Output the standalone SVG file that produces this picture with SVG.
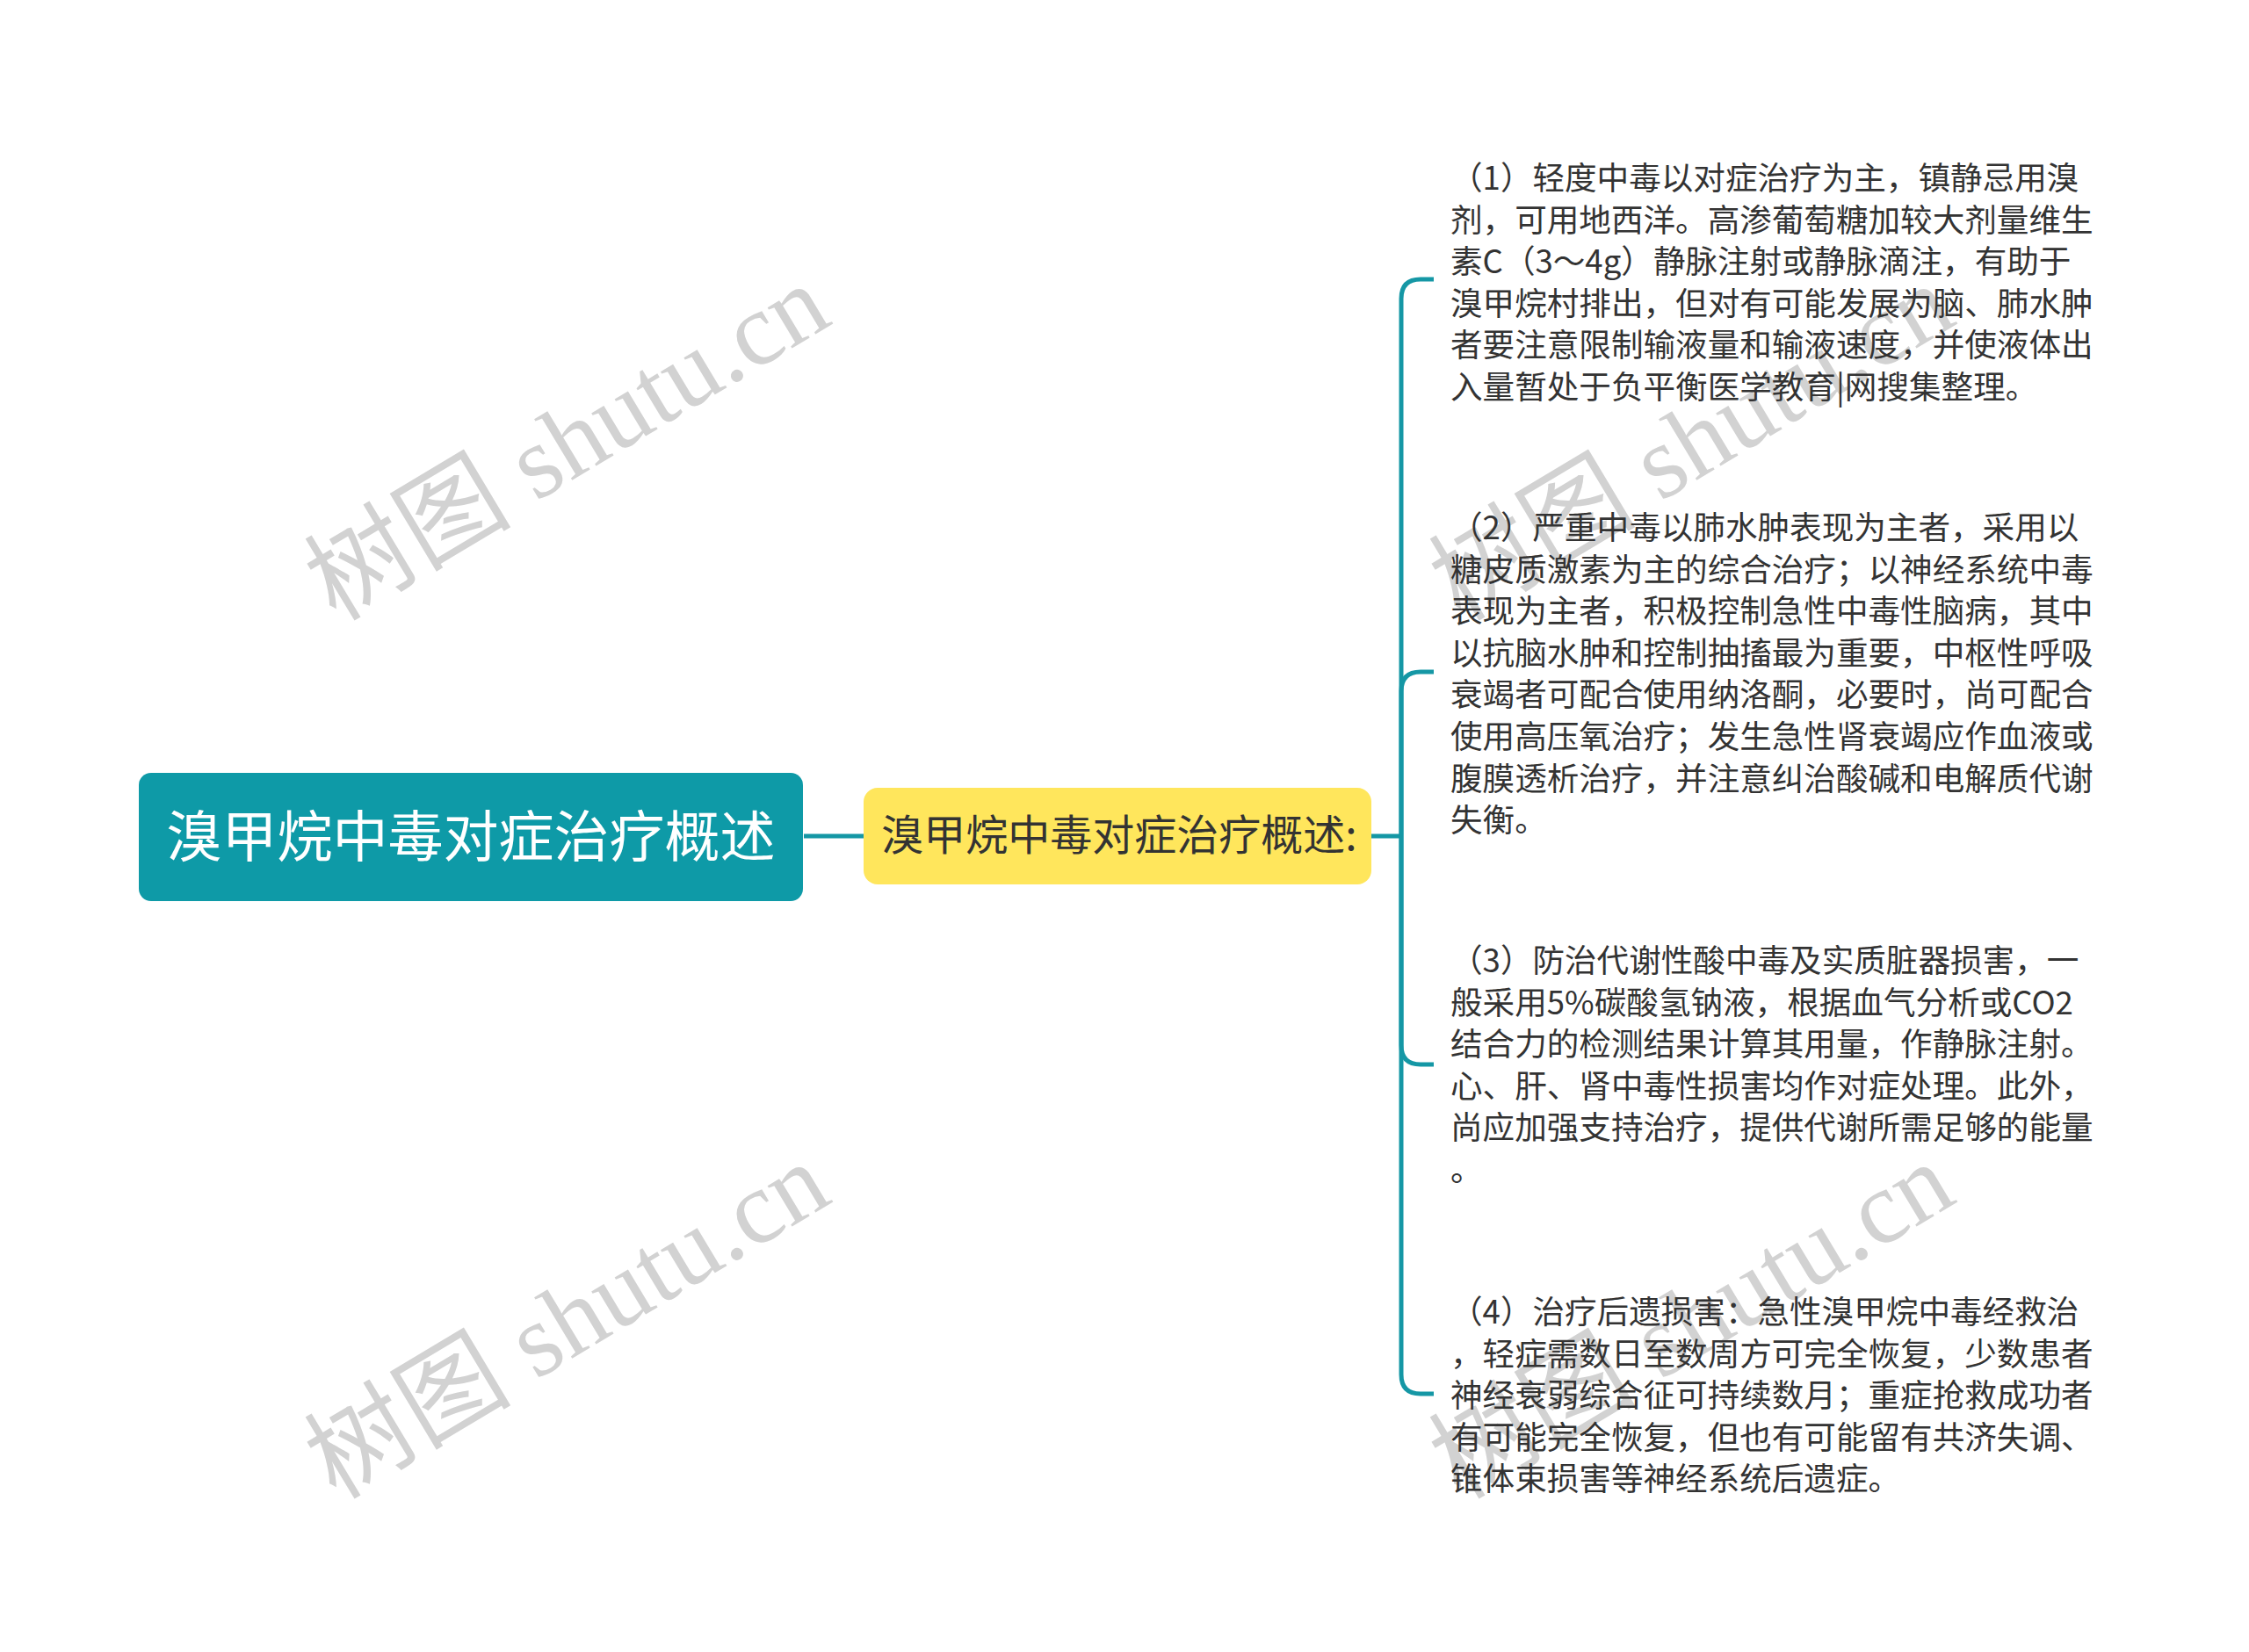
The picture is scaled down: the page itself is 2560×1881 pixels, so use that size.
<svg xmlns="http://www.w3.org/2000/svg" width="2560" height="1881" viewBox="0 0 2560 1881">
<style>
.wm{font-family:"Liberation Serif","Noto Sans CJK SC",serif;font-size:118px;fill:#d2d2d2}
.conn{fill:none;stroke:#1597a5;stroke-width:5;stroke-linecap:butt}
.leaf{font-family:"Noto Sans CJK SC","Liberation Sans",sans-serif;font-size:36.6px;fill:#333333}
.root-t{font-family:"Noto Sans CJK SC","Liberation Sans",sans-serif;font-size:63px;fill:#ffffff}
.sub-t{font-family:"Noto Sans CJK SC","Liberation Sans",sans-serif;font-size:48px;fill:#333333}
</style>
<rect width="2560" height="1881" fill="#ffffff"/>
<g id="watermarks">
<text class="wm" x="666" y="538" text-anchor="middle" transform="rotate(-31 666 538)">树图 shutu.cn</text>
<text class="wm" x="666" y="1538" text-anchor="middle" transform="rotate(-31 666 1538)">树图 shutu.cn</text>
<text class="wm" x="1946" y="538" text-anchor="middle" transform="rotate(-31 1946 538)">树图 shutu.cn</text>
<text class="wm" x="1946" y="1538" text-anchor="middle" transform="rotate(-31 1946 1538)">树图 shutu.cn</text>
</g>
<g id="connectors">
<path class="conn" d="M915 952 H983"/>
<path class="conn" d="M1561 952 H1595"/>
<path class="conn" d="M1595 952 V340 Q1595 318 1617 318 H1632"/>
<path class="conn" d="M1595 952 V787 Q1595 765 1617 765 H1632"/>
<path class="conn" d="M1595 952 V1190 Q1595 1212 1617 1212 H1632"/>
<path class="conn" d="M1595 952 V1565 Q1595 1587 1617 1587 H1632"/>
</g>
<g id="root">
<rect x="158" y="880" width="756" height="146" rx="14" fill="#0e9aa7"/>
<text class="root-t" x="536" y="975" text-anchor="middle">溴甲烷中毒对症治疗概述</text>
</g>
<g id="sub">
<rect x="983" y="897" width="578" height="110" rx="16" fill="#ffe65c"/>
<text class="sub-t" x="1274" y="968" text-anchor="middle">溴甲烷中毒对症治疗概述:</text>
</g>
<g id="item1">
<text class="leaf" x="1651" y="216">（1）轻度中毒以对症治疗为主，镇静忌用溴</text>
<text class="leaf" x="1651" y="263.6">剂，可用地西洋。高渗葡萄糖加较大剂量维生</text>
<text class="leaf" x="1651" y="311.2">素C（3～4g）静脉注射或静脉滴注，有助于</text>
<text class="leaf" x="1651" y="358.8">溴甲烷村排出，但对有可能发展为脑、肺水肿</text>
<text class="leaf" x="1651" y="406.4">者要注意限制输液量和输液速度，并使液体出</text>
<text class="leaf" x="1651" y="454">入量暂处于负平衡医学教育|网搜集整理。</text>
</g>
<g id="item2">
<text class="leaf" x="1651" y="614">（2）严重中毒以肺水肿表现为主者，采用以</text>
<text class="leaf" x="1651" y="661.6">糖皮质激素为主的综合治疗；以神经系统中毒</text>
<text class="leaf" x="1651" y="709.2">表现为主者，积极控制急性中毒性脑病，其中</text>
<text class="leaf" x="1651" y="756.8">以抗脑水肿和控制抽搐最为重要，中枢性呼吸</text>
<text class="leaf" x="1651" y="804.4">衰竭者可配合使用纳洛酮，必要时，尚可配合</text>
<text class="leaf" x="1651" y="852">使用高压氧治疗；发生急性肾衰竭应作血液或</text>
<text class="leaf" x="1651" y="899.6">腹膜透析治疗，并注意纠治酸碱和电解质代谢</text>
<text class="leaf" x="1651" y="947.2">失衡。</text>
</g>
<g id="item3">
<text class="leaf" x="1651" y="1107">（3）防治代谢性酸中毒及实质脏器损害，一</text>
<text class="leaf" x="1651" y="1154.6">般采用5%碳酸氢钠液，根据血气分析或CO2</text>
<text class="leaf" x="1651" y="1202.2">结合力的检测结果计算其用量，作静脉注射。</text>
<text class="leaf" x="1651" y="1249.8">心、肝、肾中毒性损害均作对症处理。此外，</text>
<text class="leaf" x="1651" y="1297.4">尚应加强支持治疗，提供代谢所需足够的能量</text>
<text class="leaf" x="1651" y="1345">。</text>
</g>
<g id="item4">
<text class="leaf" x="1651" y="1507">（4）治疗后遗损害：急性溴甲烷中毒经救治</text>
<text class="leaf" x="1651" y="1554.6">，轻症需数日至数周方可完全恢复，少数患者</text>
<text class="leaf" x="1651" y="1602.2">神经衰弱综合征可持续数月；重症抢救成功者</text>
<text class="leaf" x="1651" y="1649.8">有可能完全恢复，但也有可能留有共济失调、</text>
<text class="leaf" x="1651" y="1697.4">锥体束损害等神经系统后遗症。</text>
</g>
</svg>
